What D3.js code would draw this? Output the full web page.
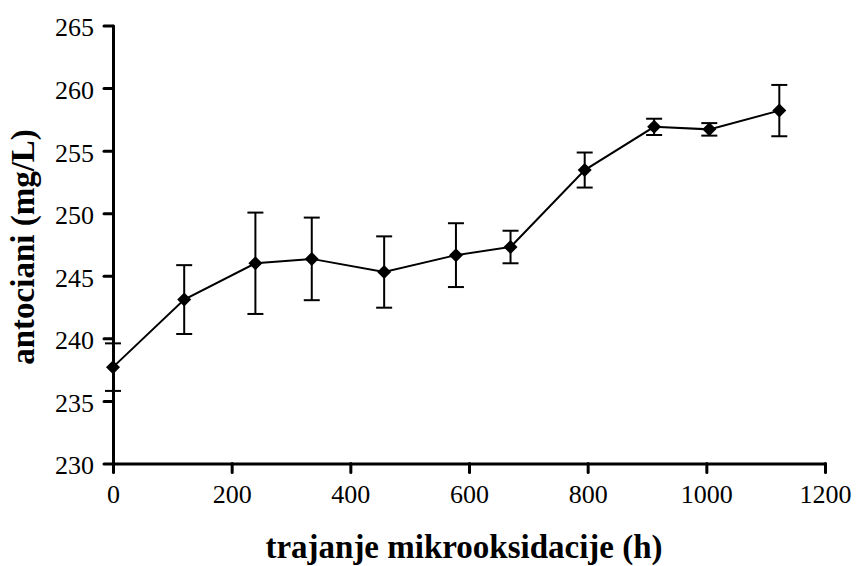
<!DOCTYPE html>
<html>
<head>
<meta charset="utf-8">
<script src="https://cdn.jsdelivr.net/npm/d3@7"></script>
<style>
  html, body { margin: 0; padding: 0; background: #fff; }
  svg { display: block; }
</style>
</head>
<body>
<svg id="chart" width="856" height="566"></svg>
<script>
// Microoxidation duration (h)
const hours = [0, 120, 240, 335, 457, 578, 670, 795, 912, 1005, 1123];
// Anthocyanin content (mg/L)
const anthocyanins = [237.7, 243.1, 246.0, 246.35, 245.3, 246.65, 247.3, 253.45, 256.9, 256.7, 258.2];
// Standard deviation (error bars)
const errors = [1.9, 2.75, 4.05, 3.3, 2.85, 2.55, 1.3, 1.4, 0.65, 0.5, 2.05];

const xTicks = [0, 200, 400, 600, 800, 1000, 1200];
const yTicks = [230, 235, 240, 245, 250, 255, 260, 265];

const xTitle = "trajanje mikrooksidacije (h)";
const yTitle = "antociani (mg/L)";

const serif = '"Liberation Serif", "Times New Roman", Times, serif';

function serifText(sel, size, bold) {
  sel.style("font-family", serif)
     .style("font-size", size + "px")
     .style("font-weight", bold ? "bold" : "normal")
     .style("fill", "#000");
}

const svg = d3.select("#chart");
const plotLeft = 113, plotRight = 825, plotTop = 25.5, plotBottom = 463.5;

const x = d3.scaleLinear().domain([0, 1200]).range([plotLeft, plotRight]);
const y = d3.scaleLinear().domain([230, 265]).range([plotBottom, plotTop]);

// axes
const xAxis = svg.append("g")
  .attr("transform", `translate(0,${plotBottom})`)
  .call(d3.axisBottom(x).tickValues(xTicks).tickFormat(d3.format("d"))
    .tickSize(9).tickPadding(12).tickSizeOuter(0));
const yAxis = svg.append("g")
  .attr("transform", `translate(${plotLeft},0)`)
  .call(d3.axisLeft(y).tickValues(yTicks).tickFormat(d3.format("d"))
    .tickSize(9).tickPadding(10).tickSizeOuter(0));

[xAxis, yAxis].forEach(g => {
  g.select(".domain")
    .style("stroke", "#000").style("stroke-width", "3px").style("stroke-linecap", "round");
  g.selectAll(".tick line")
    .style("stroke", "#000").style("stroke-width", "3px").style("stroke-linecap", "round");
  serifText(g.selectAll(".tick text"), 26, false);
});
yAxis.selectAll(".tick text").attr("dy", "0.4em");

const data = hours.map((h, i) => ({ h, v: anthocyanins[i], e: errors[i] }));

// error bars
const eb = svg.append("g");
data.forEach(d => {
  eb.append("line").attr("x1", x(d.h)).attr("x2", x(d.h))
    .attr("y1", y(d.v - d.e)).attr("y2", y(d.v + d.e));
  [d.v - d.e, d.v + d.e].forEach(val => {
    eb.append("line").attr("x1", x(d.h) - 8).attr("x2", x(d.h) + 8)
      .attr("y1", y(val)).attr("y2", y(val));
  });
});
eb.selectAll("line").style("stroke", "#000").style("stroke-width", "2px");

// line
svg.append("path")
  .datum(data)
  .style("fill", "none")
  .style("stroke", "#000")
  .style("stroke-width", "2px")
  .attr("d", d3.line().x(d => x(d.h)).y(d => y(d.v)));

// diamond markers
svg.append("g").selectAll("path")
  .data(data)
  .join("path")
  .attr("transform", d => `translate(${x(d.h)},${y(d.v)})`)
  .attr("d", "M0,-7L7,0L0,7L-7,0Z")
  .style("fill", "#000");

// axis titles
svg.append("text")
  .attr("x", 464)
  .attr("y", 558)
  .attr("text-anchor", "middle")
  .call(serifText, 33, true)
  .text(xTitle);

svg.append("text")
  .attr("transform", "translate(34,247) rotate(-90)")
  .attr("text-anchor", "middle")
  .call(serifText, 33, true)
  .text(yTitle);
</script>
</body>
</html>
